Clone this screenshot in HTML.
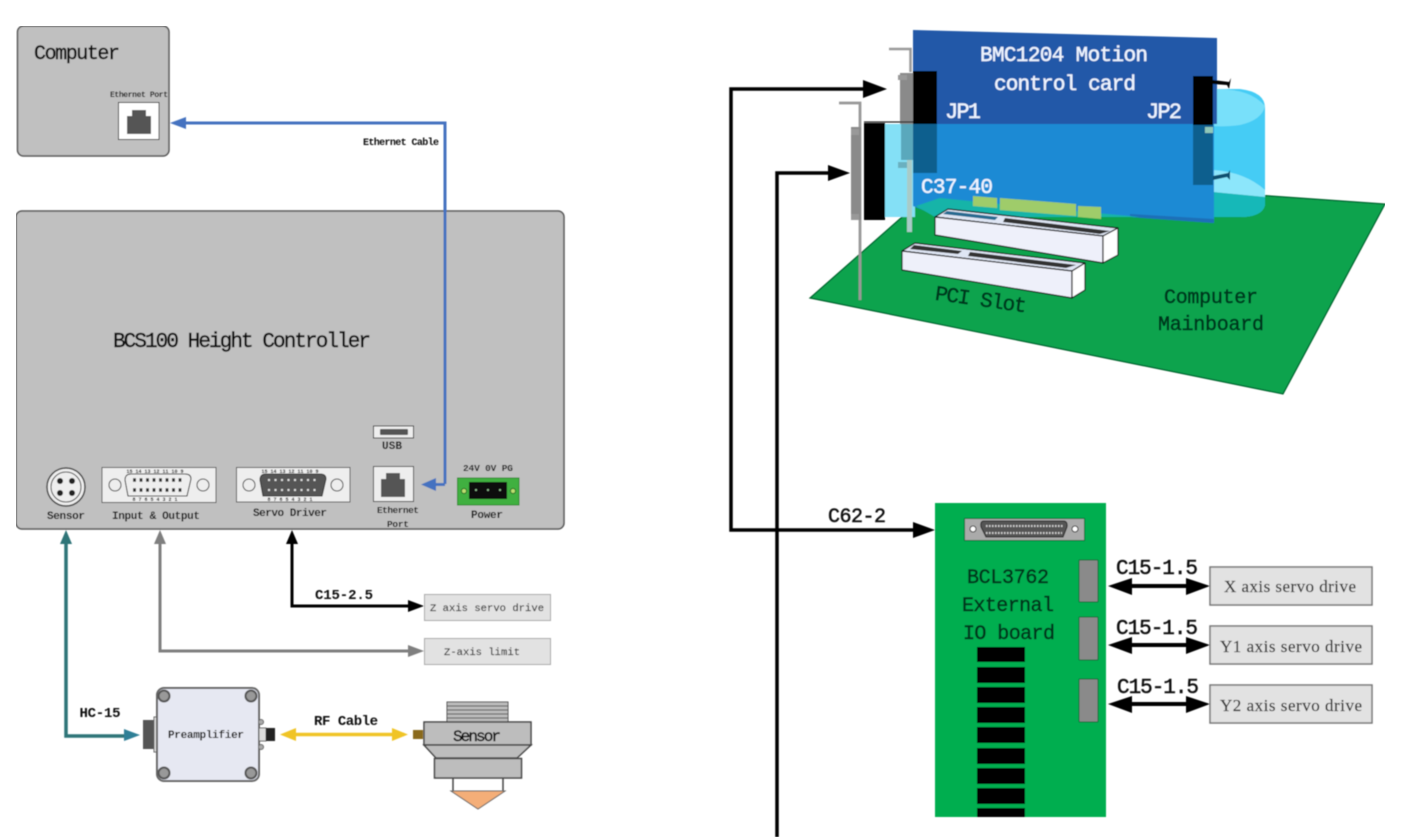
<!DOCTYPE html>
<html><head><meta charset="utf-8">
<style>
html,body{margin:0;padding:0;background:#fff;width:1402px;height:837px;overflow:hidden}
svg{display:block}
text{font-family:"Liberation Mono",monospace;font-weight:bold;text-anchor:middle;fill:#111}
.h{font-weight:normal;stroke:#111;stroke-width:.45}
.w{font-weight:normal;fill:#eef4ff;stroke:#eef4ff;stroke-width:.4}
.g{font-weight:normal;fill:#04351d;stroke:#04351d;stroke-width:.5}
.l{font-weight:normal;fill:#333;stroke:#333;stroke-width:.15}
.s{font-family:"Liberation Serif",serif;font-weight:normal;fill:#333;stroke:#333;stroke-width:.2}
</style></head><body>
<svg width="1402" height="837" viewBox="0 0 1402 837" xmlns="http://www.w3.org/2000/svg">
<defs>
<filter id="b" x="0" y="0" width="100%" height="100%"><feGaussianBlur stdDeviation="0.45"/></filter>
<g id="rj"><path d="M-12,-6H-7V-12H7V-6H12V12H-12Z" fill="#555"/></g>
</defs>
<g filter="url(#b)">
<!-- left top -->
<rect x="17.500" y="26" width="151.500" height="130" rx="6" fill="#c0c0c0" stroke="#555" stroke-width="1.500"/>
<text class="h" x="77" y="59" font-size="20" textLength="86">Computer</text>
<text x="139" y="97" font-size="8" textLength="58">Ethernet Port</text>
<rect x="118.500" y="102.500" width="40.500" height="37" fill="#fff" stroke="#333"/>
<use href="#rj" x="139" y="122"/>

<!-- controller -->
<rect x="16" y="211" width="548" height="318" rx="6" fill="#c0c0c0" stroke="#555" stroke-width="1.500"/>
<text class="h" x="242" y="347" font-size="21" textLength="258">BCS100 Height Controller</text>

<path d="M445,484V123H180" fill="none" stroke="#4472c0" stroke-width="3"/>
<path d="M170,123L186,117V129Z" fill="#4472c0"/>
<text x="401" y="145" font-size="10" textLength="76">Ethernet Cable</text>

<circle cx="66" cy="487" r="19" fill="#eee" stroke="#444" stroke-width="1.500"/>
<circle cx="66" cy="487" r="15" fill="#eee" stroke="#444"/>
<circle cx="60" cy="481" r="3" fill="#222"/><circle cx="72" cy="481" r="3" fill="#222"/>
<circle cx="60" cy="493" r="3" fill="#222"/><circle cx="72" cy="493" r="3" fill="#222"/>
<text x="66" y="519" font-size="11" textLength="38">Sensor</text>

<rect x="102" y="467.500" width="114" height="35" fill="#eee" stroke="#555"/>
<circle cx="115" cy="485" r="6" fill="#eee" stroke="#444"/><circle cx="203" cy="485" r="6" fill="#eee" stroke="#444"/>
<path d="M131,474H185Q191,474 191,479L187,496H128L125,480Q125,474 131,474Z" fill="#eee" stroke="#333"/>
<path d="M133,480H184M133,490H184" stroke="#333" stroke-width="3.500" stroke-dasharray="3 3.500" fill="none"/>
<text x="155" y="473" font-size="5">15 14 13 12 11 10 9</text>
<text x="155" y="501" font-size="5">8 7 6 5 4 3 2 1</text>
<text x="156" y="519" font-size="11" textLength="88">Input &amp; Output</text>

<rect x="236.500" y="467.500" width="113.500" height="34.500" fill="#eee" stroke="#555"/>
<circle cx="249" cy="485" r="6" fill="#eee" stroke="#444"/><circle cx="337" cy="485" r="6" fill="#eee" stroke="#444"/>
<path d="M266,474H320Q326,474 326,479L322,496H263L260,480Q260,474 266,474Z" fill="#555" stroke="#333"/>
<path d="M268,480H319M268,490H319" stroke="#ddd" stroke-width="2" stroke-dasharray="2 4.500" fill="none"/>
<text x="290" y="473" font-size="5">15 14 13 12 11 10 9</text>
<text x="290" y="501" font-size="5">8 7 6 5 4 3 2 1</text>
<text x="290" y="516" font-size="11" textLength="74">Servo Driver</text>

<rect x="373.500" y="426" width="40" height="12" fill="#eee" stroke="#333"/>
<rect x="380" y="429" width="28" height="6" rx="1" fill="#555"/>
<text x="392" y="449" font-size="11" textLength="20">USB</text>
<rect x="373.500" y="466.500" width="40" height="35" fill="#eee" stroke="#444"/>
<use href="#rj" x="393" y="485"/>
<text x="398" y="513" font-size="9.500" textLength="42">Ethernet</text>
<text x="398" y="527" font-size="9.500" textLength="22">Port</text>
<path d="M445,484.500H432" fill="none" stroke="#4472c0" stroke-width="3"/>
<path d="M421,484.500L436,478V491Z" fill="#4472c0"/>

<text x="488" y="471" font-size="9.500" textLength="50">24V 0V PG</text>
<rect x="457.500" y="478" width="61.500" height="27" fill="#40b040" stroke="#2a8a2a"/>
<rect x="469" y="482" width="38" height="17" fill="#111"/>
<circle cx="476" cy="490" r="1" fill="#9c9"/><circle cx="488" cy="490" r="1" fill="#9c9"/><circle cx="500" cy="490" r="1" fill="#9c9"/>
<circle cx="464" cy="491" r="2.500" fill="#bce070" stroke="#226622"/><circle cx="513" cy="491" r="2.500" fill="#bce070" stroke="#226622"/>
<text x="487" y="518" font-size="11" textLength="32">Power</text>

<!-- arrows left -->
<path d="M66,540V736H128" fill="none" stroke="#2e7478" stroke-width="3.500"/>
<path d="M66,530L60,544H72Z" fill="#2e7478"/>
<path d="M140,735L124,729V741Z" fill="#2e7f96"/>
<text x="100" y="717" font-size="14" textLength="41">HC-15</text>

<path d="M160,540V651H412" fill="none" stroke="#7f7f7f" stroke-width="3"/>
<path d="M160,530L154,544H166Z" fill="#7f7f7f"/>
<path d="M424,651L408,645V657Z" fill="#7f7f7f"/>

<path d="M292,540V606H412" fill="none" stroke="#000" stroke-width="3"/>
<path d="M292,530L286,544H298Z" fill="#000"/>
<path d="M424,606L408,600V612Z" fill="#000"/>
<text x="344" y="599" font-size="14" textLength="58">C15-2.5</text>

<rect x="424.500" y="594.500" width="126" height="26" fill="#e2e2e2" stroke="#aaa"/>
<text class="l" x="487" y="611" font-size="10.500" textLength="114">Z axis servo drive</text>
<rect x="424.500" y="638.500" width="126" height="26" fill="#e2e2e2" stroke="#aaa"/>
<text class="l" x="482" y="655" font-size="10.500" textLength="76">Z-axis limit</text>

<!-- preamp -->
<rect x="143" y="720" width="14" height="29" fill="#555"/>
<rect x="154" y="717" width="4" height="35" fill="#ddd" stroke="#666"/>
<rect x="157" y="688" width="102" height="93" rx="7" fill="#e6e8f2" stroke="#666" stroke-width="2"/>
<g fill="#999" stroke="#555" stroke-width="2"><circle cx="164" cy="696" r="5.500"/><circle cx="251" cy="696" r="5.500"/><circle cx="164" cy="773" r="5.500"/><circle cx="251" cy="773" r="5.500"/></g>
<text x="206" y="738" font-size="11" textLength="76">Preamplifier</text>
<rect x="259" y="728" width="7" height="13" fill="#ddd" stroke="#666"/>
<rect x="266" y="728" width="9" height="13" fill="#222"/>
<circle cx="261" cy="722" r="2.500" fill="#aaa" stroke="#666"/><circle cx="261" cy="747" r="2.500" fill="#aaa" stroke="#666"/>

<path d="M290,734.500H404" stroke="#f0c428" stroke-width="3.500"/>
<path d="M280,734.500L296,728V741Z" fill="#f0c428"/>
<path d="M408,734.500L392,728V741Z" fill="#f0c428"/>
<text x="346" y="725" font-size="14" textLength="64">RF Cable</text>

<!-- sensor -->
<rect x="447" y="702" width="61" height="20" fill="#bbb" stroke="#555"/>
<path d="M447,706H508M447,710H508M447,714H508M447,718H508" stroke="#555"/>
<rect x="413" y="730" width="10" height="9" fill="#8a6a1a"/>
<rect x="424" y="722" width="107" height="23" fill="#bdbdbd" stroke="#444" stroke-width="1.500"/>
<path d="M424,745H531L517,758H436Z" fill="#bdbdbd" stroke="#444" stroke-width="1.500"/>
<rect x="434.500" y="758.500" width="87" height="19.500" fill="#bdbdbd" stroke="#444" stroke-width="1.500"/>
<path d="M453,778V791M503,778V791" stroke="#444" stroke-width="1.500"/>
<path d="M451,791H505L478,809Z" fill="#f4ae78" stroke="#666"/>
<text class="h" x="477" y="741" font-size="16" textLength="48">Sensor</text>

<!-- right: main lines -->
<path d="M872,89H731V530H920" fill="none" stroke="#000" stroke-width="3.500"/>
<path d="M887,89L863,80V98Z" fill="#000"/>
<path d="M935,530L913,522V538Z" fill="#000"/>
<path d="M777,837V173H835" fill="none" stroke="#000" stroke-width="3.500"/>
<path d="M850,173L828,165V181Z" fill="#000"/>
<text class="h" x="857" y="522" font-size="20" textLength="58">C62-2</text>

<!-- mainboard -->
<path d="M1385,204L1283,394L810,298L918,203L940,170L1213,192Z" fill="#07a34e"/>
<path d="M1213,192L1385,204L1283,394L810,298L918,203" fill="none" stroke="#05602c" stroke-width="1.200"/>

<!-- rear cable -->
<rect x="885" y="124" width="30" height="93" fill="#84e0f6"/>
<path d="M1213,89H1240Q1265,92 1265,108V205Q1262,217 1240,217H1213Z" fill="#45ccf5"/>
<path d="M1213,89Q1250,88 1265,106Q1262,120 1240,125Q1225,127 1213,126Z" fill="#78e0fa"/>
<path d="M1213,170Q1245,172 1265,190V197L1213,192Z" fill="#8ce6fb"/>
<path d="M1213,192L1265,197V205Q1262,217 1240,217H1213Z" fill="#18b8b8"/>

<!-- brackets -->
<path d="M889,49H910.500V72" fill="none" stroke="#999" stroke-width="2.500"/>
<rect x="900" y="73" width="13" height="51" fill="#8a8a8a"/>
<rect x="898" y="75" width="9" height="5" fill="#999"/>
<path d="M839,103H860V300" fill="none" stroke="#999" stroke-width="2.800"/>
<rect x="851" y="127" width="10" height="93" fill="#8a8a8a"/>
<rect x="851" y="129" width="8" height="6" fill="#999"/>
<rect x="851" y="214" width="8" height="6" fill="#999"/>
<rect x="864" y="123" width="21" height="97" fill="#000"/>
<path d="M864,122H913" stroke="#222" stroke-width="1.200"/>
<rect x="901" y="124" width="12" height="36" fill="#5aa8bc"/>
<rect x="898" y="162" width="10" height="6" fill="#6ab0c0"/>
<rect x="907" y="160" width="5" height="72" fill="#a8cbc8"/>

<!-- card -->
<path d="M913,30L1217,38V124H913Z" fill="#2358a8"/>
<path d="M913,124H1214V223L1130,217H940L913,206Z" fill="#1a8ad4"/>
<path d="M1130,217L1214,223V219L1130,214Z" fill="#1a70b8"/>
<path d="M916,206L940,198L1000,204L1140,217H935Z" fill="#18b4a8"/>
<rect x="913" y="71" width="24" height="53" fill="#000"/>
<rect x="913" y="124" width="24" height="49" fill="#0b5f8e"/>
<rect x="1193" y="76" width="20" height="49" fill="#000"/>
<path d="M1193,76H1204L1213,80L1229,82L1231,78L1229,89L1227,85L1213,84Z" fill="#000"/>
<rect x="1193" y="125" width="20" height="60" fill="#0b5f8e"/>
<path d="M1213,176L1228,173L1230,170V180L1227,177L1213,180Z" fill="#0b4f70"/>
<rect x="1205" y="127" width="8" height="6" fill="#8fc8b8"/>
<path d="M973,196L997,198V208L973,206ZM1000,198L1076,204V216L1000,210ZM1078,206L1101,207V219L1078,217Z" fill="#9fcc6a"/>
<text class="w" x="1064" y="61" font-size="21" textLength="168">BMC1204 Motion</text>
<text class="w" x="1065" y="90" font-size="21" textLength="142">control card</text>
<text class="w" x="963" y="118" font-size="22" textLength="36">JP1</text>
<text class="w" x="1164" y="118" font-size="22" textLength="36">JP2</text>
<text class="w" x="957" y="193" font-size="21" textLength="72">C37-40</text>

<!-- slots -->
<g stroke="#111" stroke-width="1.200" stroke-linejoin="round">
<path d="M935,217L948,209L1118,228L1103,236Z" fill="#dfe6f4"/>
<path d="M935,217L1103,236V263L935,235Z" fill="#eef0fa"/>
<path d="M1103,236L1118,228V255L1103,263Z" fill="#fff"/>
<path d="M902,251L915,243L1085,263L1072,271Z" fill="#dfe6f4"/>
<path d="M902,251L1072,271V298L902,270Z" fill="#eef0fa"/>
<path d="M1072,271L1085,263V290L1072,298Z" fill="#fff"/>
</g>
<path d="M947,211L998,217L995,220L943,214Z" fill="#256a90"/>
<path d="M1005,218L1110,231L1100,234L1003,222Z" fill="#333"/>
<path d="M914,245L962,251L958,254L910,249Z" fill="#333"/>
<path d="M970,252L1076,265L1066,268L968,256Z" fill="#333"/>

<text class="g" transform="translate(980,306) rotate(8)" font-size="21" textLength="92">PCI Slot</text>
<text class="g" x="1211" y="303" font-size="20" textLength="94">Computer</text>
<text class="g" x="1211" y="330" font-size="20" textLength="106">Mainboard</text>

<!-- IO board -->
<rect x="935" y="503" width="171" height="314" fill="#00ae50"/>
<rect x="964.500" y="518.500" width="120" height="22" fill="#aaa" stroke="#0a6a3a"/>
<circle cx="973" cy="529" r="3" fill="#fff" stroke="#333"/><circle cx="1075" cy="529" r="3" fill="#fff" stroke="#333"/>
<path d="M984,521H1063Q1068,521 1067,527L1063,537H986L981,527Q980,521 984,521Z" fill="#555" stroke="#222"/>
<path d="M986,526H1063M986,533H1062" stroke="#ccc" stroke-width="2" stroke-dasharray="1.500 1.500"/>
<text class="g" x="1008" y="583" font-size="20" textLength="82">BCL3762</text>
<text class="g" x="1008" y="611" font-size="20" textLength="92">External</text>
<text class="g" x="1009" y="639" font-size="20" textLength="92">IO board</text>
<g fill="#000">
<rect x="977" y="647" width="48" height="15"/><rect x="977" y="667" width="48" height="16"/><rect x="977" y="687" width="48" height="16"/><rect x="977" y="707" width="48" height="16"/><rect x="977" y="727" width="48" height="16"/><rect x="977" y="748" width="48" height="16"/><rect x="977" y="768" width="48" height="16"/><rect x="977" y="788" width="48" height="16"/><rect x="977" y="808" width="48" height="9"/>
</g>
<g fill="#8a8a8a" stroke="#0a6a3a"><rect x="1079" y="560" width="19" height="42" rx="1"/><rect x="1079" y="617" width="19" height="43" rx="1"/><rect x="1079" y="679" width="19" height="43" rx="1"/></g>

<g fill="#000">
<path d="M1108,586L1132,578V584H1186V578L1210,586L1186,595V588H1132V595Z"/>
<path d="M1108,645L1132,637V643H1186V637L1210,645L1186,654V647H1132V654Z"/>
<path d="M1108,704L1132,696V702H1186V696L1210,704L1186,713V706H1132V713Z"/>
</g>
<text class="h" x="1157" y="574" font-size="21" textLength="82">C15-1.5</text>
<text class="h" x="1157" y="634" font-size="21" textLength="82">C15-1.5</text>
<text class="h" x="1158" y="693" font-size="21" textLength="82">C15-1.5</text>
<g fill="#e2e2e2" stroke="#777" stroke-width="1.500">
<rect x="1210" y="567" width="162" height="38"/><rect x="1210" y="626" width="162" height="38"/><rect x="1210" y="685" width="162" height="38"/>
</g>
<text class="s" x="1290" y="592" font-size="17" textLength="132">X axis servo drive</text>
<text class="s" x="1291" y="652" font-size="17" textLength="142">Y1  axis servo drive</text>
<text class="s" x="1291" y="711" font-size="17" textLength="142">Y2  axis servo drive</text>
</g>
</svg>
</body></html>
